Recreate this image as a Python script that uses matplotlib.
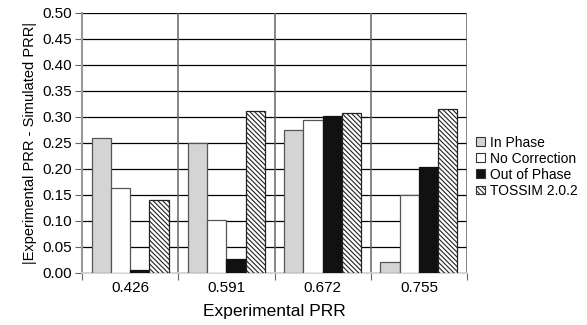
import numpy as np
import matplotlib
import matplotlib.pyplot as plt
from matplotlib.patches import Patch

matplotlib.rcParams['font.family'] = "sans-serif"
matplotlib.rcParams['font.sans-serif'] = ["Liberation Sans", "DejaVu Sans"]
matplotlib.rcParams['hatch.linewidth'] = 0.8

categories = ["0.426", "0.591", "0.672", "0.755"]
series_names = ["In Phase", "No Correction", "Out of Phase", "TOSSIM 2.0.2"]
in_phase = [0.260, 0.250, 0.275, 0.022]
no_correction = [0.163, 0.101, 0.294, 0.150]
out_of_phase = [0.006, 0.027, 0.302, 0.204]
tossim = [0.140, 0.312, 0.308, 0.315]
yticks = np.arange(0, 0.501, 0.05)

values = [in_phase, no_correction, out_of_phase, tossim]
faces = ["#d4d4d4", "white", "#111111", "white"]
hatches = [None, None, None, "\\\\\\\\\\\\\\"]
edges = ["#555555", "#555555", "#111111", "#222222"]

fig = plt.figure(figsize=(5.87, 3.25), dpi=100)
ax = fig.add_axes([0.1397, 0.16, 0.6559, 0.80])

x = np.arange(len(categories))
width = 0.2
for i, vals in enumerate(values):
    ax.bar(x - 0.4 + width * (i + 0.5), vals, width, color=faces[i], edgecolor=edges[i],
           linewidth=0.9, hatch=hatches[i], zorder=3)

ax.set_xlim(-0.5, len(categories) - 0.5)
ax.set_ylim(0, 0.5)
ax.set_yticks(yticks)
ax.set_yticklabels(["%.2f" % v for v in yticks], fontsize=11)

# group boundaries as major ticks, labels at centers via minor ticks
ax.set_xticks(np.arange(-0.5, len(categories)))
ax.set_xticklabels([])
ax.set_xticks(x, minor=True)
ax.set_xticklabels(categories, minor=True, fontsize=11)
ax.tick_params(axis="x", which="minor", length=0, pad=6)
ax.tick_params(axis="x", which="major", length=5, color="#666666")
ax.tick_params(axis="y", length=5, color="#666666", pad=2)

for yv in yticks[1:]:
    ax.axhline(yv, color="black", linewidth=0.9, zorder=1)
for xv in np.arange(0.5, len(categories)):
    ax.axvline(xv, color="#666666", linewidth=1.1, zorder=1)

for s in ["top", "right"]:
    ax.spines[s].set_visible(False)
ax.spines["left"].set_color("#999999")
ax.spines["left"].set_linewidth(1.5)
ax.spines["bottom"].set_color("#cccccc")
ax.spines["bottom"].set_linewidth(1.2)

ax.set_xlabel("Experimental PRR", fontsize=12.5, labelpad=6)
ax.set_ylabel("|Experimental PRR - Simulated PRR|", fontsize=10.5, labelpad=4)

handles = [Patch(facecolor=faces[i], edgecolor="#333333", hatch=hatches[i], linewidth=0.8)
           for i in range(4)]
fig.legend(handles, series_names, loc="upper left", bbox_to_anchor=(0.802, 0.6),
           frameon=False, fontsize=10, handlelength=0.6, handleheight=0.6,
           handletextpad=0.35, labelspacing=0.15, borderaxespad=0)

fig.savefig("out.png", dpi=100)
